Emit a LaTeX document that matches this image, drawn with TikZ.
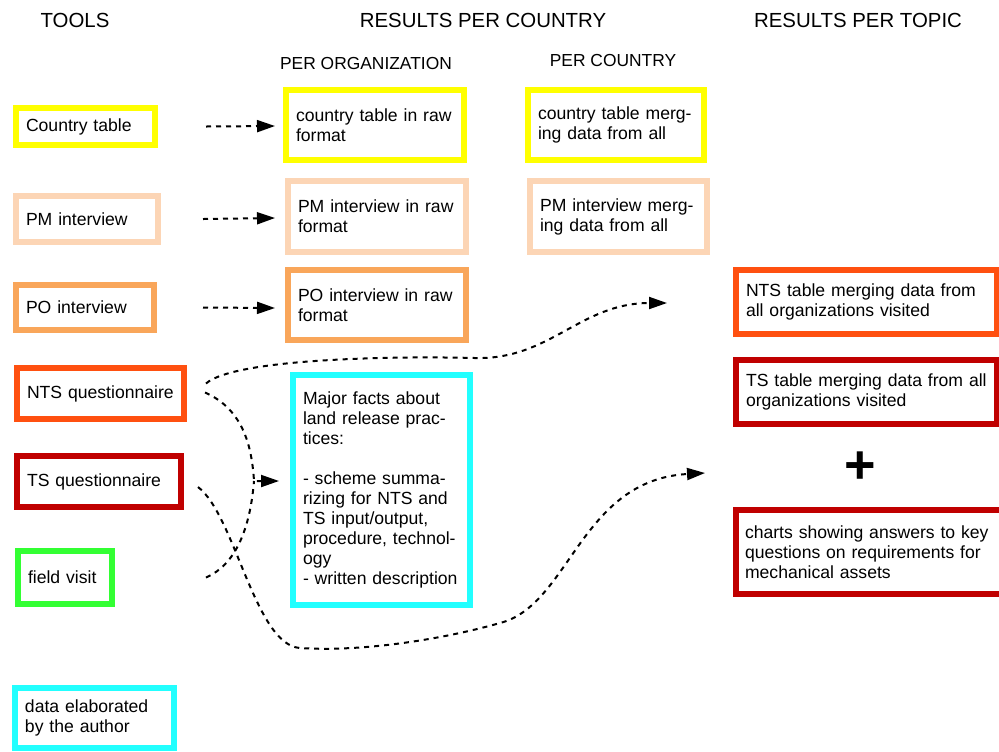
\documentclass[tikz,border=0pt]{standalone}
\usepackage{fontspec}
\setmainfont{Liberation Sans}
\usepackage{tikz}
\usetikzlibrary{arrows.meta,positioning}

\definecolor{cyel}{HTML}{FFFF00}
\definecolor{cpeach}{HTML}{FCD5B5}
\definecolor{corange}{HTML}{F9A65A}
\definecolor{cnts}{HTML}{FF5010}
\definecolor{cts}{HTML}{C00000}
\definecolor{cgreen}{HTML}{33FF33}
\definecolor{ccyan}{HTML}{22FFFF}

\begin{document}
\begin{tikzpicture}[
    x=0.5pt, y=-0.5pt, font=\fontsize{8.8}{10}\selectfont,
    box/.style={rectangle, draw, line width=3pt, align=left,
                inner xsep=5pt, inner ysep=2pt},
    head/.style={font=\fontsize{10.2}{12}\selectfont},
    sub/.style={font=\fontsize{8.7}{10}\selectfont},
    flow/.style={-{Triangle[length=9pt,width=6pt]}, line width=1pt,
                 dash pattern=on 2.5pt off 2.5pt}
]
\useasboundingbox (0,0) rectangle (999,751);

% Column headers
\node[head] (htools)   at (75,20)  {TOOLS};
\node[head] (hcountry) at (483,20) {RESULTS PER COUNTRY};
\node[head] (htopic)   at (858,20) {RESULTS PER TOPIC};
\node[sub]  (horg)     at (366,64) {PER ORGANIZATION};
\node[sub]  (hcty)     at (613,61) {PER COUNTRY};

% Tools
\node[box, draw=cyel,    text width=59.5pt, minimum height=18.5pt] (ct)  at (85.5,126.5) {Country table};
\node[box, draw=cpeach,  text width=61pt,   minimum height=23pt]   (pm)  at (87,219)     {PM interview};
\node[box, draw=corange, text width=59pt,   minimum height=22.5pt] (po)  at (85,307.5)   {PO interview};
\node[box, draw=cnts,    text width=73.5pt, minimum height=25.5pt] (nts) at (100.5,393.5) {NTS questionnaire};
\node[box, draw=cts,     text width=72pt,   minimum height=25.5pt] (ts)  at (99,481.5)   {TS questionnaire};
\node[box, draw=cgreen,  text width=37pt,   minimum height=26.5pt] (fv)  at (65,577.5)   {field visit};
\node[box, draw=ccyan,   text width=69.5pt, minimum height=30pt]   (key) at (94.5,718)   {data elaborated\\by the author};

% Results per organization
\node[box, draw=cyel,    text width=79pt, minimum height=35pt]   (ctraw) at (375,125)   {country table in raw\\format};
\node[box, draw=cpeach,  text width=79pt, minimum height=35.5pt] (pmraw) at (377,216.5) {PM interview in raw\\format};
\node[box, draw=corange, text width=79pt, minimum height=35pt]   (poraw) at (377,305)   {PO interview in raw\\format};
\node[box, draw=ccyan,   text width=78.5pt, minimum height=115pt] (facts) at (381.5,490)
    {Major facts about\\land release prac-\\tices:\\[10pt]- scheme summa-\\rizing for NTS and\\TS input/output,\\procedure, technol-\\ogy\\- written description};

% Results per country
\node[box, draw=cyel,   text width=78pt, minimum height=35pt]   (ctall) at (616,125)   {country table merg-\\ing data from all};
\node[box, draw=cpeach, text width=78.5pt, minimum height=35.5pt] (pmall) at (618.5,216.5) {PM interview merg-\\ing data from all};

% Results per topic
\node[box, draw=cnts, text width=120.5pt, minimum height=32pt] (ntstab) at (866.5,302) {NTS table merging data from\\all organizations visited};
\node[box, draw=cts,  text width=120.5pt, minimum height=32pt] (tstab)  at (866.5,392) {TS table merging data from all\\organizations visited};
\node[font=\fontsize{27}{27}\selectfont\bfseries] (plus) at (860,468) {+};
\node[box, draw=cts, inner xsep=4.5pt, text width=130pt, minimum height=42pt] (charts) at (875,552)
    {charts showing answers to key\\questions on requirements for\\mechanical assets};

% Straight links
\draw[flow] ([shift={(48,0)}]ct.east) -- ([shift={(-8,1)}]ctraw.west);
\draw[flow] ([shift={(42,0)}]pm.east) -- ([shift={(-10,1.5)}]pmraw.west);
\draw[flow] ([shift={(46,0)}]po.east) -- ([shift={(-10,3)}]poraw.west);

% Curved links
\coordinate (join)   at (254,481);
\coordinate (plusin) at (705,473);
\draw[flow] ([shift={(19,-10)}]nts.east) .. controls (235,358) and (400,356) .. (475,358)
            .. controls (550,360) and (580,303) .. ([shift={(-66,1)}]ntstab.west);
\draw[flow] ([shift={(18,-1)}]nts.east) .. controls (245,410) and (252,450) .. (join)
            -- ([shift={(-11,-9)}]facts.west);
\draw[line width=1pt, dash pattern=on 2.5pt off 2.5pt]
            ([shift={(91,0)}]fv.east) .. controls (235,565) and (250,530) .. (join);
\draw[flow] ([shift={(14,5.5)}]ts.east) .. controls (235,515) and (255,645) .. (300,648)
            .. controls (360,652) and (440,640) .. (500,623)
            .. controls (570,605) and (580,480) .. (plusin);
\end{tikzpicture}
\end{document}
